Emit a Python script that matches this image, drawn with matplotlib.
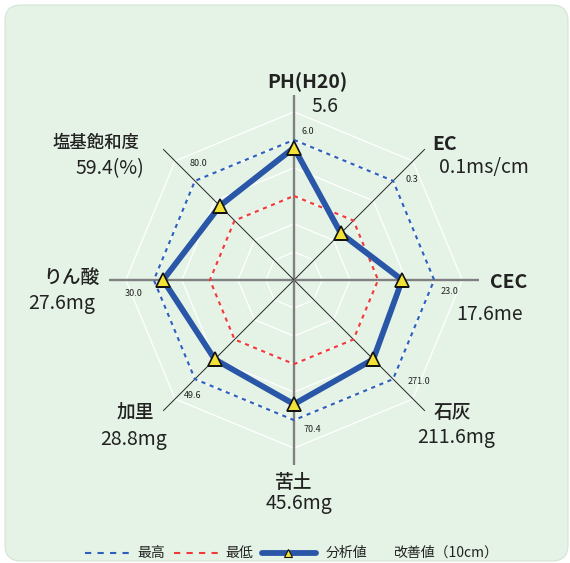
import numpy as np
import matplotlib
matplotlib.use("Agg")
import matplotlib.pyplot as plt
from matplotlib.patches import FancyBboxPatch
from matplotlib.lines import Line2D

plt.rcParams["font.family"] = ["Noto Sans CJK JP", "DejaVu Sans"]

# axes clockwise from the top
names = ["PH(H20)", "EC", "CEC", "石灰", "苦土", "加里", "りん酸", "塩基飽和度"]
name_sizes = [14, 14, 14, 13.5, 13.5, 13.5, 13.5, 12.5]
values_text = ["5.6", "0.1ms/cm", "17.6me", "211.6mg", "45.6mg", "28.8mg", "27.6mg", "59.4(%)"]
max_text = ["6.0", "0.3", "23.0", "271.0", "70.4", "49.6", "30.0", "80.0"]
# plotted levels on the 0-6 grid
analysis = [4.72, 2.36, 3.86, 4.0, 4.43, 4.0, 4.67, 3.74]
max_level = [5, 5, 5, 5, 5, 5, 5, 5]
min_level = [3, 3, 3, 3, 3, 3, 3, 3]
rings = [1, 2, 3, 4, 5, 6]

W, H = 570, 563
fig = plt.figure(figsize=(W / 100, H / 100), dpi=100)
fig.patch.set_facecolor("white")

panel = FancyBboxPatch((5 / W, 2 / H), 563 / W, 556 / H,
                       boxstyle="round,pad=0,rounding_size=0.028",
                       transform=fig.transFigure, facecolor="#e5f3e6",
                       edgecolor="#d4e4d6", linewidth=0.8, zorder=0)
fig.patches.append(panel)

cx, cy, R = 294, 280, 185
ax = fig.add_axes([(cx - R) / W, (H - cy - R) / H, 2 * R / W, 2 * R / H], projection="polar")
ax.set_zorder(1)
ax.set_facecolor("none")
ax.set_theta_zero_location("N")
ax.set_theta_direction(-1)
ax.grid(False)
ax.spines["polar"].set_visible(False)
ax.set_xticks([])
ax.set_yticks([])

n = len(names)
theta = np.arange(n) * 2 * np.pi / n
closed = np.append(theta, theta[0])

def close(v):
    return np.append(v, v[0])

for r in rings:
    ax.plot(closed, [r] * (n + 1), color="white", lw=0.9, zorder=1)

for i, t in enumerate(theta):
    if i % 2 == 0:
        ax.plot([t, t], [0, 6.6], color="#808080", lw=1.7, zorder=2)
    else:
        ax.plot([t, t], [0, 6.6], color="#222222", lw=0.7, zorder=2)

ax.plot(closed, close(max_level), color="#2d5fbf", lw=1.5, ls=(0, (2, 2.2)), zorder=3)
ax.plot(closed, close(min_level), color="#f03a3a", lw=1.5, ls=(0, (2, 2.2)), zorder=3)
ax.plot(closed, close(analysis), color="#2a56a8", lw=4.2, zorder=4, solid_joinstyle="miter")
ax.plot(theta, analysis, ls="none", marker="^", ms=10, mfc="#f2e136", mec="#111111", mew=1.2, zorder=5)
ax.set_ylim(0, 6.6)

def ftext(x, y, s, **kw):
    fig.text(x / W, 1 - y / H, s, ha="center", va="center", color="#222222", **kw)

name_pos = [(307, 82), (445, 144), (509, 282), (452, 412), (294, 482), (135, 412), (71, 277), (96, 143)]
value_pos = [(325, 106), (484, 168), (490, 315), (456, 438), (299, 503), (134, 440), (62, 304), (110, 169)]
max_pos = [(308, 131), (412, 180), (450, 291), (419, 381), (312, 430), (193, 396), (134, 293), (199, 163)]

for i in range(n):
    latin = names[i] in ("PH(H20)", "EC", "CEC")
    ftext(*name_pos[i], names[i], fontsize=name_sizes[i],
          fontweight="bold" if latin else "medium")
    ftext(*value_pos[i], values_text[i], fontsize=14)
    ftext(*max_pos[i], max_text[i], fontsize=6.5)

# legend along the bottom
ly = 1 - 553 / H
def fline(x0, x1, **kw):
    fig.add_artist(Line2D([x0 / W, x1 / W], [ly, ly], transform=fig.transFigure, **kw))

fline(85, 132, color="#2d5fbf", lw=1.5, ls=(0, (3, 3)))
ftext(151, 553, "最高", fontsize=10)
fline(174, 218, color="#f03a3a", lw=1.5, ls=(0, (3, 3)))
ftext(239, 553, "最低", fontsize=10)
fline(262, 316, color="#2a56a8", lw=4.2, solid_capstyle="round")
fig.add_artist(Line2D([288 / W], [ly], transform=fig.transFigure, ls="none", marker="^",
                      ms=6, mfc="#f2e136", mec="#111111", mew=0.8))
ftext(347, 553, "分析値", fontsize=10)
ftext(445, 553, "改善値（10cm）", fontsize=10)

fig.savefig("out.png", dpi=100)
